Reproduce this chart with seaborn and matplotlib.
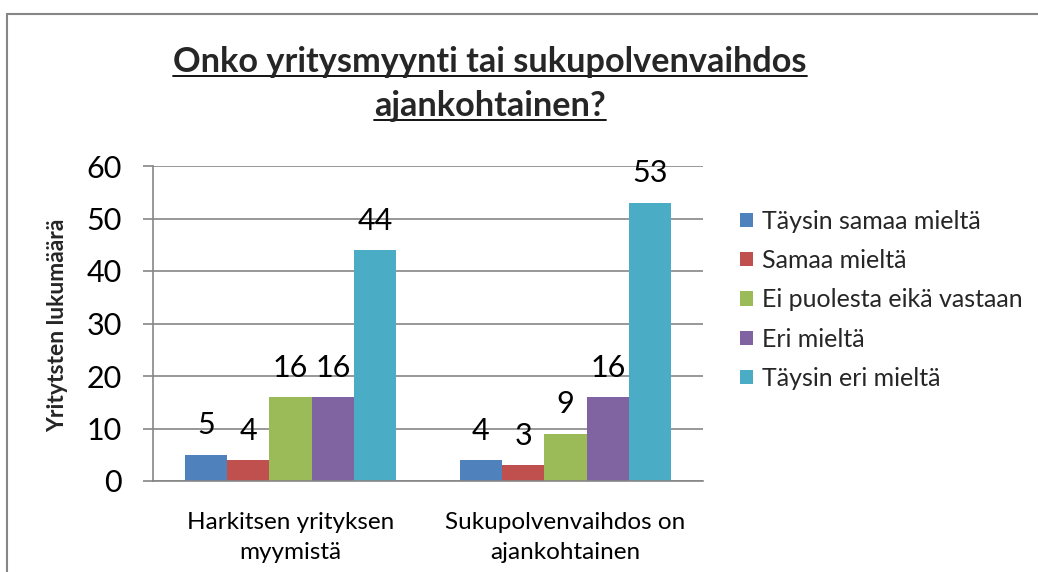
import matplotlib
matplotlib.use("Agg")
import matplotlib.pyplot as plt
import seaborn as sns
import pandas as pd
from matplotlib.patches import Rectangle
from matplotlib.lines import Line2D

categories = ["Harkitsen yrityksen\nmyymistä", "Sukupolvenvaihdos on\najankohtainen"]
responses = ["Täysin samaa mieltä", "Samaa mieltä", "Ei puolesta eikä vastaan",
             "Eri mieltä", "Täysin eri mieltä"]
values_harkitsen = [5, 4, 16, 16, 44]
values_sukupolvi = [4, 3, 9, 16, 53]
colors = ["#4F81BD", "#C0504D", "#9BBB59", "#8064A2", "#4BACC6"]
title_lines = ["Onko yritysmyynti tai sukupolvenvaihdos", "ajankohtainen?"]
y_label = "Yritytsten lukumäärä"
y_ticks = [0, 10, 20, 30, 40, 50, 60]

rows = []
for cat, vals in zip(categories, [values_harkitsen, values_sukupolvi]):
    for r, v in zip(responses, vals):
        rows.append({"Kategoria": cat, "Vastaus": r, "Lukumäärä": v})
df = pd.DataFrame(rows)

sns.set_theme(style="white")
plt.rcParams["font.family"] = ["Lato", "DejaVu Sans"]
GREY = "#868686"
W, H = 1038, 572

fig = plt.figure(figsize=(W / 100, H / 100), dpi=100)
ax = fig.add_axes([153 / W, 1 - 481 / H, 550 / W, 315 / H])
sns.barplot(data=df, x="Kategoria", y="Lukumäärä", hue="Vastaus", hue_order=responses,
            palette=colors, width=0.77, saturation=1, linewidth=0, ax=ax)

for cont in ax.containers:
    ax.bar_label(cont, padding=11, fontsize=22, color="black")

ax.set_ylim(0, 60)
ax.set_yticks(y_ticks)
ax.set_xlim(-0.5, 1.5)
ax.set_xticks([-0.5, 0.5, 1.5], minor=True)
ax.tick_params(axis="x", which="major", length=0, labelsize=17.5, pad=22, colors="black")
for lbl in ax.get_xticklabels():
    lbl.set_linespacing(1.55)
ax.tick_params(axis="x", which="minor", length=7.5, width=1.2, color=GREY, direction="out")
ax.tick_params(axis="y", which="major", length=7.5, width=1.2, color=GREY, direction="out",
               labelsize=22, labelcolor="black", pad=15, left=True)
ax.yaxis.grid(True, color=GREY, lw=1.2)
ax.set_axisbelow(True)
for s in ["top", "right"]:
    ax.spines[s].set_visible(False)
for s in ["left", "bottom"]:
    ax.spines[s].set_color(GREY)
    ax.spines[s].set_linewidth(1.2)
ax.set_xlabel("")
ax.set_ylabel("")
fig.text(58 / W, 1 - 325 / H, y_label, rotation=90, ha="center", va="center",
         fontsize=16.5, fontweight="bold")

handles, labels = ax.get_legend_handles_labels()
ax.legend(handles, labels, loc="upper left", bbox_to_anchor=(740 / W, 1 - 210 / H),
          bbox_transform=fig.transFigure, frameon=False, fontsize=18,
          handlelength=0.5, handleheight=0.5, handletextpad=0.4, labelspacing=0.65,
          borderpad=0, borderaxespad=0)

t1 = fig.text(490 / W, 1 - 72 / H, title_lines[0], ha="center", va="baseline",
              fontsize=24.7, fontweight="bold")
t2 = fig.text(490 / W, 1 - 116 / H, title_lines[1], ha="center", va="baseline",
              fontsize=24.7, fontweight="bold")

fig.add_artist(Rectangle((7 / W, -0.1), 2, 1 - 14 / H + 0.1, transform=fig.transFigure,
                         fill=False, edgecolor=GREY, lw=1.5))

fig.canvas.draw()
r = fig.canvas.get_renderer()
for t, base in [(t1, 72), (t2, 116)]:
    bb = t.get_window_extent(r)
    yl = 1 - (base + 4) / H
    fig.add_artist(Line2D([bb.x0 / W, bb.x1 / W], [yl, yl], transform=fig.transFigure,
                          color="black", lw=1.3))

fig.savefig("out.png", dpi=100)
